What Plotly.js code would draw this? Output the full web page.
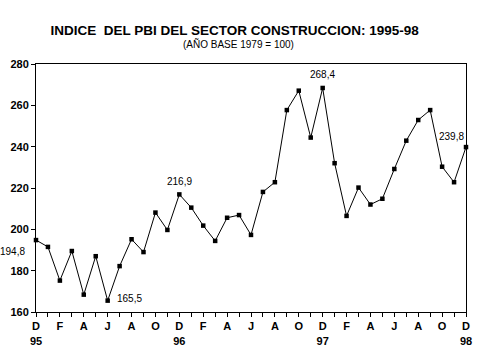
<!DOCTYPE html>
<html>
<head>
<meta charset="utf-8">
<script src="https://cdn.plot.ly/plotly-3.0.1.min.js"></script>
<style>html,body{margin:0;padding:0;background:#fff;}#chart{width:479px;height:359px;}</style>
</head>
<body>
<div id="chart"></div>
<script>
var months = ["D","E","F","M","A","M","J","J","A","S","O","N",
              "D","E","F","M","A","M","J","J","A","S","O","N",
              "D","E","F","M","A","M","J","J","A","S","O","N","D"];
var yearLabels = {0:"95", 12:"96", 24:"97", 36:"98"};
var values = [194.8,191.5,175.2,189.5,168.4,187.0,165.5,182.2,195.2,189.0,208.1,199.7,
              216.9,210.5,201.8,194.4,205.6,206.9,197.3,218.1,222.8,257.7,267.1,244.4,
              268.4,232.0,206.5,220.2,212.0,214.8,229.2,242.9,252.9,257.7,230.3,222.8,239.8];
var labelled = [0, 6, 12, 24, 36];

var idx = values.map(function(v,i){return i;});
var tickText = months.map(function(m,i){
  if (i % 2 === 1) return "";
  return yearLabels[i] !== undefined ? m + "<br>" + yearLabels[i] : m;
});

function fmt(v){ return v.toFixed(1).replace(".", ","); }

var annPos = {
  0:  {xshift:-24, yshift:-11, xanchor:"center"},
  6:  {xshift:22,  yshift:2,   xanchor:"center"},
  12: {xshift:0,   yshift:13,  xanchor:"center"},
  24: {xshift:0,   yshift:13,  xanchor:"center"},
  36: {xshift:0,   yshift:11,  xanchor:"right"}
};
var annotations = labelled.map(function(i){
  var p = annPos[i];
  return {x: idx[i], y: values[i], xref:"x", yref:"y", text: fmt(values[i]),
          showarrow:false, xanchor:p.xanchor, yanchor:"middle",
          xshift:p.xshift, yshift:p.yshift,
          font:{family:"Liberation Sans, Arial, sans-serif", size:10, color:"#000"}};
});
annotations.push({xref:"paper", yref:"paper", x:0.47, y:1.08, xanchor:"center", yanchor:"middle",
  showarrow:false, text:"(AÑO BASE 1979 = 100)",
  font:{family:"Liberation Sans, Arial, sans-serif", size:10, color:"#000"}});

var trace = {
  x: idx, y: values, type:"scatter", mode:"lines+markers",
  line:{color:"#000", width:1},
  marker:{symbol:"square", size:4.5, color:"#000"},
  cliponaxis:false, hoverinfo:"none"
};

var layout = {
  width:479, height:359,
  margin:{l:36, r:13, t:64, b:47},
  paper_bgcolor:"#fff", plot_bgcolor:"#fff",
  showlegend:false,
  title:{text:"<b>INDICE  DEL PBI DEL SECTOR CONSTRUCCION: 1995-98</b>",
         x:0.49, xanchor:"center", y:0.915, yanchor:"middle",
         font:{family:"Liberation Sans, Arial, sans-serif", size:13.5, color:"#000"}},
  xaxis:{range:[0,36], tickmode:"array", tickvals:idx, ticktext:tickText,
         ticks:"outside", ticklen:4, tickwidth:1, tickcolor:"#000",
         showline:true, linecolor:"#000", linewidth:1, mirror:true,
         showgrid:false, zeroline:false, fixedrange:true,
         tickfont:{family:"Liberation Sans, Arial, sans-serif", size:11, color:"#000", weight:"bold"}},
  yaxis:{range:[160,280], dtick:20, tick0:160,
         ticks:"outside", ticklen:4, tickwidth:1, tickcolor:"#000",
         showline:true, linecolor:"#000", linewidth:1, mirror:true,
         showgrid:false, zeroline:false, fixedrange:true,
         tickfont:{family:"Liberation Sans, Arial, sans-serif", size:11, color:"#000", weight:"bold"}},
  annotations: annotations
};

Plotly.newPlot("chart", [trace], layout, {displayModeBar:false, staticPlot:true});
</script>
</body>
</html>
